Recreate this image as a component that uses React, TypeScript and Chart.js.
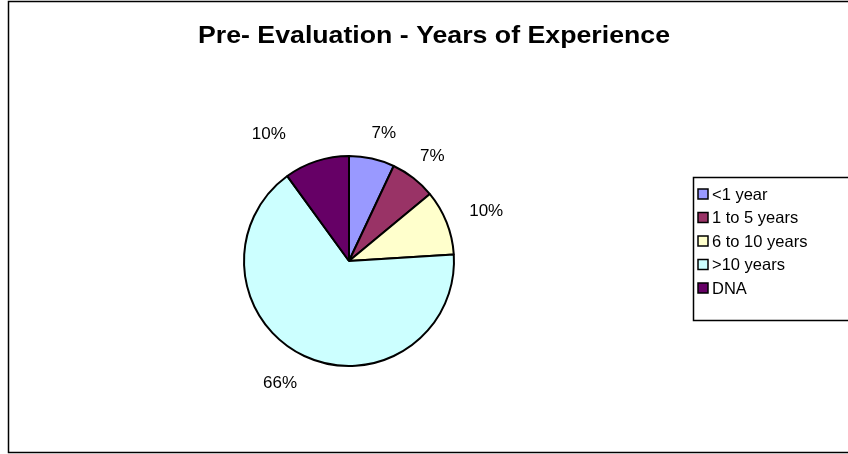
import React, { useEffect, useRef } from "react";
import { Chart, registerables } from "chart.js";

Chart.register(...registerables);

const chartTitle = "Pre- Evaluation - Years of Experience";
const categories = ["<1 year", "1 to 5 years", "6 to 10 years", ">10 years", "DNA"];
const values = [7, 7, 10, 66, 10];
const percentLabels = ["7%", "7%", "10%", "66%", "10%"];
const sliceColors = ["#9999FF", "#993366", "#FFFFCC", "#CCFFFF", "#660066"];

// label placement tweaks (angle shift in degrees, distance beyond the rim in px)
const labelAngleShift = [2.7, 0.6, 1.6, 4.3, -14.3];
const labelRimGap = [27, 29, 41, 35, 45];

const FONT = "'Liberation Sans', Arial, Helvetica, sans-serif";

const framePlugin = {
  id: "framePlugin",
  beforeDraw(chart: any) {
    const ctx = chart.ctx;
    ctx.save();
    ctx.fillStyle = "#ffffff";
    ctx.fillRect(0, 0, chart.width, chart.height);
    ctx.strokeStyle = "#000000";
    ctx.lineWidth = 1.5;
    ctx.strokeRect(8.5, 1.5, 900, 451);
    // title, stretched to the reference width
    ctx.fillStyle = "#000000";
    ctx.font = `bold 24px ${FONT}`;
    ctx.textAlign = "center";
    ctx.textBaseline = "alphabetic";
    const tw = ctx.measureText(chartTitle).width;
    const sx = 472 / tw;
    ctx.translate(434, 43);
    ctx.scale(sx, 1);
    ctx.fillText(chartTitle, 0, 0);
    ctx.restore();
  },
  afterDraw(chart: any) {
    const ctx = chart.ctx;
    ctx.save();
    const meta = chart.getDatasetMeta(0);
    ctx.font = `17px ${FONT}`;
    ctx.fillStyle = "#000000";
    ctx.textAlign = "center";
    ctx.textBaseline = "middle";
    meta.data.forEach((arc: any, i: number) => {
      const mid = (arc.startAngle + arc.endAngle) / 2 + (labelAngleShift[i] * Math.PI) / 180;
      const r = arc.outerRadius + labelRimGap[i];
      const x = arc.x + Math.cos(mid) * r;
      const y = arc.y + Math.sin(mid) * r;
      ctx.fillText(percentLabels[i], x, y);
    });
    // legend
    const lx = 693, ly = 177, lh = 143;
    ctx.strokeStyle = "#000000";
    ctx.lineWidth = 1.5;
    ctx.strokeRect(lx + 0.5, ly + 0.5, 300, lh);
    ctx.textAlign = "left";
    ctx.textBaseline = "middle";
    ctx.font = `16.5px ${FONT}`;
    categories.forEach((c, i) => {
      const cy = 194 + i * 23.5;
      ctx.fillStyle = sliceColors[i];
      ctx.fillRect(698, cy - 5, 10, 10);
      ctx.lineWidth = 1.5;
      ctx.strokeStyle = "#000000";
      ctx.strokeRect(698, cy - 5, 10, 10);
      ctx.fillStyle = "#000000";
      ctx.fillText(c, 712, cy + 1);
    });
    ctx.restore();
  },
};

export default function App() {
  const ref = useRef<HTMLCanvasElement>(null);
  useEffect(() => {
    document.body.style.margin = "0";
    const canvas = ref.current!;
    const chart = new Chart(canvas, {
      type: "pie",
      data: {
        labels: categories,
        datasets: [
          {
            data: values,
            backgroundColor: sliceColors,
            borderColor: "#000000",
            borderWidth: 2,
          },
        ],
      },
      options: {
        responsive: false,
        animation: false,
        devicePixelRatio: 1,
        layout: { padding: { left: 243, right: 393, top: 155, bottom: 87 } },
        plugins: {
          legend: { display: false },
          title: { display: false },
          tooltip: { enabled: false },
        },
      },
      plugins: [framePlugin],
    });
    return () => chart.destroy();
  }, []);
  return <canvas ref={ref} width={848} height={454} style={{ display: "block" }} />;
}
